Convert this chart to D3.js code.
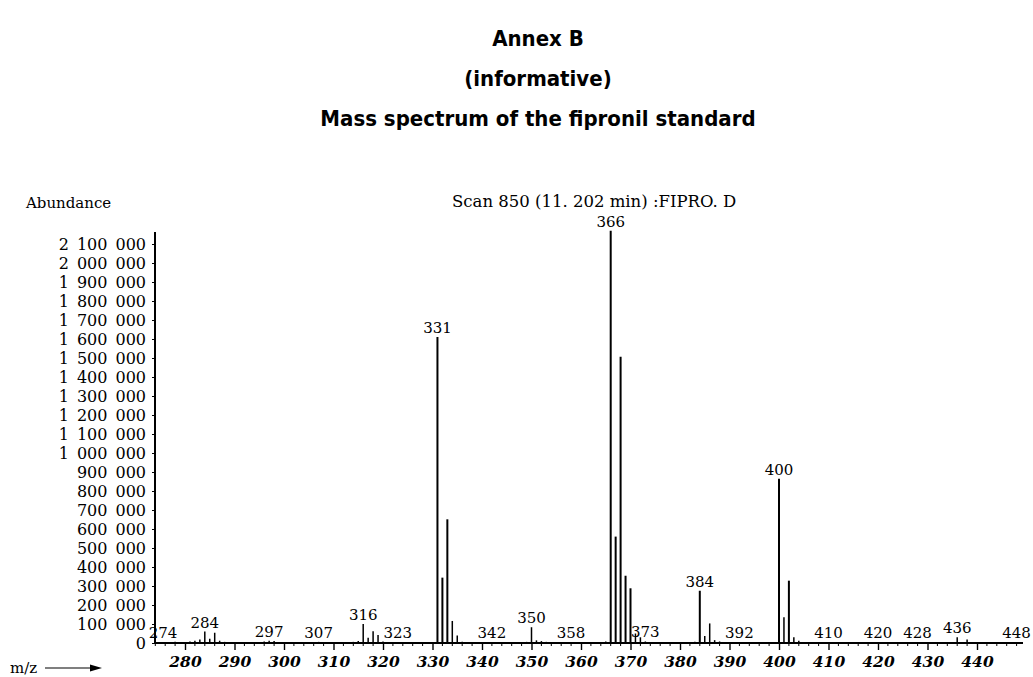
<!DOCTYPE html>
<html>
<head>
<meta charset="utf-8">
<script src="https://cdn.jsdelivr.net/npm/d3@7"></script>
<style>
  body { margin: 0; background: #fff; }
  text { fill: #000; }
  .serif { font-family: "DejaVu Serif", serif; }
  .title { font-family: "Liberation Sans Narrow", "DejaVu Sans Condensed", "Liberation Sans", sans-serif; font-weight: bold; }
</style>
</head>
<body>
<svg id="chart" width="1033" height="677"></svg>
<script>
// Titles
const titleLines = ['Annex B', '(informative)', 'Mass spectrum of the fipronil standard'];
const scanLabel = 'Scan 850 (11. 202 min) :FIPRO. D';

// Peaks (m/z, abundance)
const peakMz = [274, 276, 278, 279, 281, 282, 283, 284, 285, 286, 287, 288, 290, 292, 294,
  296, 297, 298, 299, 301, 303, 305, 307, 309, 312, 314, 315, 316, 317, 318, 319, 320, 321,
  323, 331, 332, 333, 334, 335, 336, 339, 342, 348, 349, 350, 351, 352, 353, 358, 365, 366,
  367, 368, 369, 370, 371, 372, 373, 383, 384, 385, 386, 387, 388, 392, 399, 400, 401, 402,
  403, 404, 410, 420, 428, 436, 438, 448];
const peakAbundance = [5000, 4000, 6000, 5000, 8000, 12000, 18000, 60000, 22000, 54000, 12000,
  6000, 4000, 5000, 3000, 8000, 12000, 10000, 5000, 4000, 5000, 4000, 6000, 4000, 5000, 6000,
  10000, 100000, 28000, 62000, 42000, 8000, 5000, 4000, 1610000, 344000, 651000, 116000, 40000,
  6000, 5000, 4000, 5000, 6000, 83000, 14000, 10000, 6000, 4000, 8000, 2170000, 560000, 1507000,
  354000, 288000, 50000, 30000, 8000, 6000, 275000, 37000, 103000, 15000, 8000, 4000, 5000,
  865000, 135000, 328000, 30000, 12000, 4000, 4000, 4000, 30000, 18000, 5000];

// Peaks that carry an m/z label
const labelledMz = [274, 284, 297, 307, 316, 323, 331, 342, 350, 358, 366, 373, 384, 392, 400,
  410, 420, 428, 436, 448];

// Axis ticks
const xTicks = d3.range(280, 441, 10);
const xMinorTicks = d3.range(274, 449, 2);
const yTicks = d3.range(0, 2100001, 100000);

const svg = d3.select('#chart');

const x = d3.scaleLinear().domain([280, 440]).range([185, 977]);
const y = d3.scaleLinear().domain([0, 2100000]).range([643, 244]);

const xStart = 155;
const xEnd = 1023;
const yTop = 232;

// Title block
svg.selectAll('.title')
  .data(titleLines)
  .enter().append('text')
  .attr('class', 'title')
  .attr('x', 538)
  .attr('y', (d, i) => 46 + i * 40)
  .attr('text-anchor', 'middle')
  .style('font-size', '22px')
  .text(d => d);

// Header texts
svg.append('text')
  .attr('class', 'serif')
  .attr('x', 26)
  .attr('y', 208)
  .style('font-size', '15px')
  .text('Abundance');

svg.append('text')
  .attr('class', 'serif')
  .attr('x', 452)
  .attr('y', 207)
  .style('font-size', '16.5px')
  .text(scanLabel);

// Y axis with spaced thousands groups
const groupFormat = (v) => {
  if (v === 0) return '0';
  const s = String(v);
  const parts = [];
  for (let end = s.length; end > 0; end -= 3) {
    parts.unshift(s.slice(Math.max(0, end - 3), end));
  }
  return parts.join('\u2002');
};

const yAxis = svg.append('g')
  .attr('transform', `translate(${xStart},0)`)
  .call(d3.axisLeft(y).tickValues(yTicks).tickSize(3).tickPadding(6).tickFormat(groupFormat));
yAxis.select('.domain').remove();
yAxis.selectAll('line').attr('stroke', '#000');
yAxis.selectAll('text')
  .attr('class', 'serif')
  .style('font-size', '16px');

svg.append('line')
  .attr('x1', xStart).attr('x2', xStart)
  .attr('y1', yTop).attr('y2', y(0))
  .attr('stroke', '#000')
  .attr('stroke-width', 2);

// X axis
const xAxisG = svg.append('g').attr('transform', `translate(0,${y(0)})`);
xAxisG.call(d3.axisBottom(x).tickValues(xTicks).tickSize(7).tickPadding(6).tickFormat(d3.format('d')));
xAxisG.select('.domain').remove();
xAxisG.selectAll('line').attr('stroke', '#000').attr('stroke-width', 1.4);
xAxisG.selectAll('text')
  .attr('class', 'serif')
  .style('font-size', '15.5px')
  .style('font-style', 'italic')
  .style('font-weight', 'bold');

xAxisG.selectAll('.minor')
  .data(xMinorTicks.filter(v => v % 10 !== 0))
  .enter().append('line')
  .attr('class', 'minor')
  .attr('x1', d => x(d)).attr('x2', d => x(d))
  .attr('y1', 0).attr('y2', 3)
  .attr('stroke', '#000');

svg.append('line')
  .attr('x1', xStart).attr('x2', xEnd)
  .attr('y1', y(0)).attr('y2', y(0))
  .attr('stroke', '#000')
  .attr('stroke-width', 2);

// m/z arrow
svg.append('text')
  .attr('class', 'serif')
  .attr('x', 10)
  .attr('y', 673)
  .style('font-size', '15px')
  .text('m/z');
svg.append('line')
  .attr('x1', 45).attr('x2', 92)
  .attr('y1', 668).attr('y2', 668)
  .attr('stroke', '#000')
  .attr('stroke-width', 1.2);
svg.append('path')
  .attr('d', 'M90,664.5 L102,668 L90,671.5 Z')
  .attr('fill', '#000');

// Peaks
const peaks = peakMz.map((m, i) => ({ mz: m, value: peakAbundance[i] }));

svg.append('g')
  .selectAll('line')
  .data(peaks)
  .enter().append('line')
  .attr('x1', d => x(d.mz)).attr('x2', d => x(d.mz))
  .attr('y1', y(0)).attr('y2', d => y(d.value))
  .attr('stroke', '#000')
  .attr('stroke-width', d => (d.value > 200000 ? 2 : 1.5));

// Peak labels
svg.append('g')
  .selectAll('text')
  .data(peaks.filter(d => labelledMz.includes(d.mz)))
  .enter().append('text')
  .attr('class', 'serif')
  .attr('x', d => Math.max(x(d.mz), xStart + 8))
  .attr('y', d => y(d.value) - 4)
  .attr('text-anchor', 'middle')
  .style('font-size', '15px')
  .text(d => d.mz);
</script>
</body>
</html>
